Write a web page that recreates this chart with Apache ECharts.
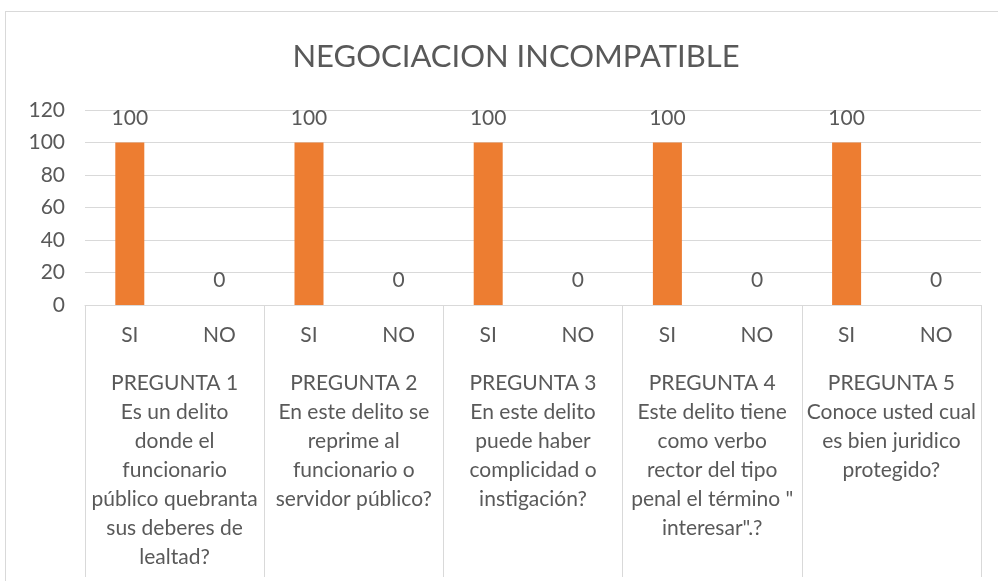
<!DOCTYPE html>
<html>
<head>
<meta charset="utf-8">
<script src="https://cdn.jsdelivr.net/npm/echarts@6/dist/echarts.min.js"></script>
<style>
	html, body { margin: 0; padding: 0; background: #fff; }
	#chart { width: 998px; height: 581px; }
	#frame { position: absolute; left: 5px; top: 11px; width: 1000px; height: 600px; border: 1px solid #d9d9d9; pointer-events: none; }
</style>
</head>
<body>
<div id="chart"></div>
<div id="frame"></div>
<script>
const title = 'NEGOCIACION INCOMPATIBLE';
const questions = [
	'PREGUNTA 1\nEs un delito\ndonde el\nfuncionario\npúblico quebranta\nsus deberes de\nlealtad?',
	'PREGUNTA 2\nEn este delito se\nreprime al\nfuncionario o\nservidor público?',
	'PREGUNTA 3\nEn este delito\npuede haber\ncomplicidad o\ninstigación?',
	'PREGUNTA 4\nEste delito tiene\ncomo verbo\nrector del tipo\npenal el término "\ninteresar".?',
	'PREGUNTA 5\nConoce usted cual\nes bien juridico\nprotegido?'
];
const answers = ['SI', 'NO'];
const siValues = [100, 100, 100, 100, 100];
const noValues = [0, 0, 0, 0, 0];

const answerLabels = [];
const values = [];
questions.forEach((q, i) => {
	answerLabels.push(answers[0], answers[1]);
	values.push(siValues[i], noValues[i]);
});

const font = 'Lato';
const textColor = '#595959';
const lineColor = '#d9d9d9';

const chart = echarts.init(document.getElementById('chart'));
chart.setOption({
	animation: false,
	title: {
		text: title,
		left: 511,
		top: 36,
		textAlign: 'center',
		textStyle: { fontFamily: font, fontSize: 31, fontWeight: 'normal', color: textColor }
	},
	grid: { left: 85, right: 17, top: 110, bottom: 276 },
	xAxis: [
		{
			type: 'category',
			data: answerLabels,
			axisLine: { lineStyle: { color: lineColor } },
			axisTick: { show: false },
			axisLabel: { interval: 0, margin: 20, fontFamily: font, fontSize: 21, color: textColor }
		},
		{
			type: 'category',
			position: 'bottom',
			data: questions,
			axisLine: { show: false },
			axisTick: { show: true, length: 272, lineStyle: { color: lineColor } },
			axisLabel: { interval: 0, margin: 64, fontFamily: font, fontSize: 21, lineHeight: 29, color: textColor, align: 'center' }
		}
	],
	yAxis: {
		type: 'value',
		min: 0,
		max: 120,
		interval: 20,
		axisLine: { show: false },
		axisTick: { show: false },
		splitLine: { lineStyle: { color: lineColor } },
		axisLabel: { margin: 20, fontFamily: font, fontSize: 21, color: textColor }
	},
	series: [
		{
			type: 'bar',
			xAxisIndex: 0,
			data: values,
			barWidth: 29,
			itemStyle: { color: '#ed7d31' },
			label: { show: true, position: 'top', distance: 14, fontFamily: font, fontSize: 21, color: textColor }
		}
	]
});
</script>
</body>
</html>
